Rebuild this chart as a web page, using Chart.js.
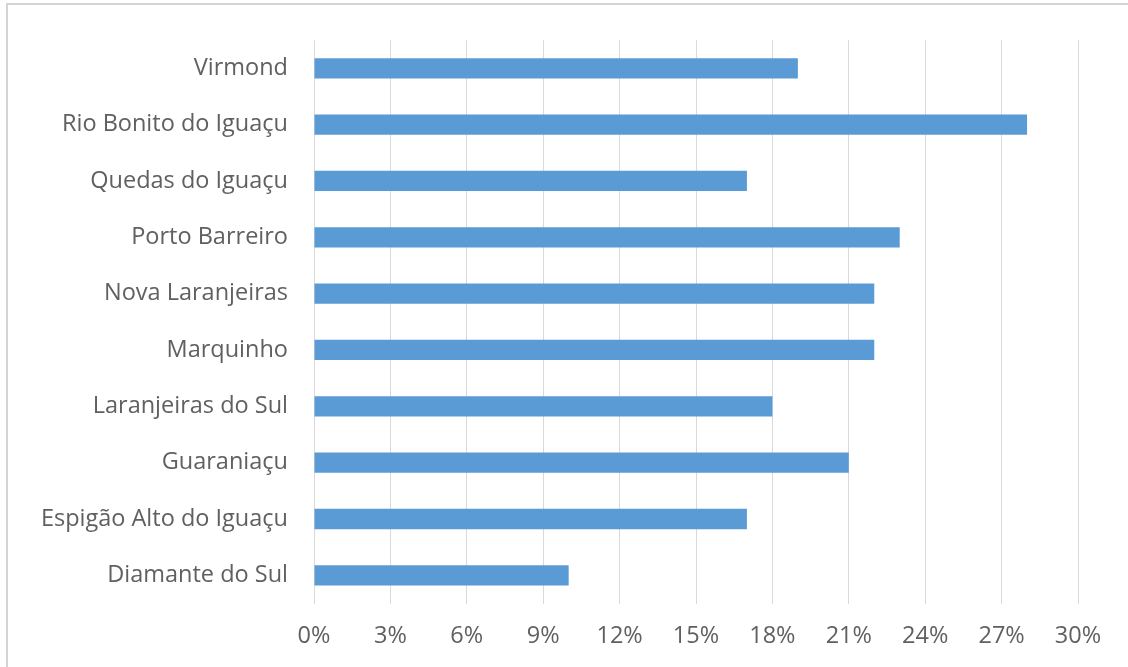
<!DOCTYPE html>
<html>
<head>
<meta charset="utf-8">
<script src="https://cdn.jsdelivr.net/npm/chart.js@4"></script>
<style>
    html, body { margin: 0; padding: 0; background: #fff; }
    .frame {
        position: absolute; left: 0; top: 0; width: 1128px; height: 667px;
        box-sizing: border-box;
        border-left: 2px solid #d4d4d4;
        border-top: 2px solid #d4d4d4;
        margin-left: 6px; margin-top: 3px;
    }
    #chart { position: absolute; left: 0; top: 0; }
</style>
</head>
<body>
<div class="frame"></div>
<canvas id="chart" width="1128" height="667"></canvas>
<script>
// Municipalities, top to bottom as shown
const municipios = [
    'Virmond',
    'Rio Bonito do Iguaçu',
    'Quedas do Iguaçu',
    'Porto Barreiro',
    'Nova Laranjeiras',
    'Marquinho',
    'Laranjeiras do Sul',
    'Guaraniaçu',
    'Espigão Alto do Iguaçu',
    'Diamante do Sul'
];
// Percentages
const valores = [19, 28, 17, 23, 22, 22, 18, 21, 17, 10];
const xTicks = [0, 3, 6, 9, 12, 15, 18, 21, 24, 27, 30];

const textColor = '#606060';
const fontFamily = "'Open Sans', 'Noto Sans', sans-serif";

new Chart(document.getElementById('chart').getContext('2d'), {
    type: 'bar',
    data: {
        labels: municipios,
        datasets: [{
            data: valores,
            backgroundColor: '#5b9bd5',
            borderWidth: 0,
            barPercentage: 0.36,
            categoryPercentage: 1
        }]
    },
    options: {
        indexAxis: 'y',
        responsive: false,
        animation: false,
        layout: { padding: { top: 39.5, right: 50, bottom: 0, left: 0 } },
        plugins: {
            legend: { display: false },
            tooltip: { enabled: false }
        },
        scales: {
            x: {
                min: 0,
                max: 30,
                afterBuildTicks: (scale) => {
                    scale.ticks = xTicks.map(v => ({ value: v }));
                },
                afterFit: (scale) => { scale.height = 667 - 603.5; },
                grid: { color: '#d9d9d9', lineWidth: 1, drawTicks: false },
                border: { display: false },
                ticks: {
                    color: textColor,
                    padding: 19,
                    font: { family: fontFamily, size: 23.5 },
                    callback: v => v + '%'
                }
            },
            y: {
                afterFit: (scale) => { scale.width = 314; },
                grid: { display: false, drawTicks: false },
                border: { display: false },
                ticks: {
                    color: textColor,
                    padding: 26,
                    font: { family: fontFamily, size: 23.5 }
                }
            }
        }
    }
});
</script>
</body>
</html>
